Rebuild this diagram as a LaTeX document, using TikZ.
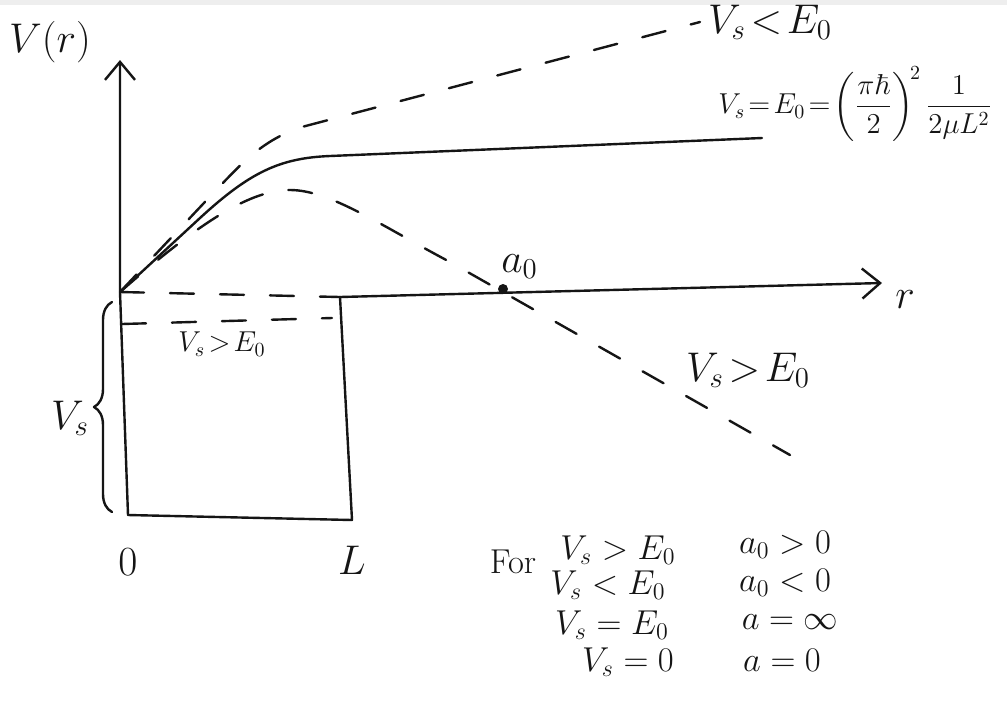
\documentclass[tikz,border=0pt]{standalone}
\usepackage{amsmath,amssymb}
\usepackage{xcolor}
\definecolor{potbg}{HTML}{EEEEEE}
\definecolor{potink}{HTML}{151515}
\usetikzlibrary{arrows.meta,positioning,calc,decorations.pathreplacing}

\begin{document}
\begin{tikzpicture}[x=0.5pt,y=-0.5pt,
  ink/.style={draw=potink,line width=1.2pt,line cap=round,line join=round},
  dashink/.style={ink,dash pattern=on 12pt off 13pt},
  axtip/.style={-{Straight Barb[length=9pt,width=15pt,line width=1.2pt]}},
  lbl/.style={font=\huge,text=potink,inner sep=1pt},
  tbl/.style={font=\LARGE,text=potink,inner sep=1pt}]
\useasboundingbox[fill=white] (0,0) rectangle (1007,703);
\fill[potbg] (0,0) rectangle (1007,5);

% axes and well
\coordinate (origin) at (120,292);
\coordinate (vtop) at (120,60);
\coordinate (rend) at (882,283);
\coordinate (wellTR) at (340,297);
\coordinate (wellBL) at (128,515);
\coordinate (wellBR) at (352,520);
\coordinate (azero) at (503,289);
\draw[ink,axtip] (wellBL) -- (origin) -- (vtop);
\draw[dashink] (origin) -- (wellTR);
\draw[ink,axtip] (wellTR) -- (rend);
\draw[ink] (wellTR) -- (wellBR) -- (wellBL);
\draw[dashink] (122,324) -- (332,318);
\fill[potink] (azero) circle (2.5pt);
\draw[ink,decorate,decoration={brace,amplitude=9pt}] (112,512) -- (112,302);

% curves
\draw[ink] (origin) -- (200,218) .. controls (250,172) and (280,158) .. (330,156) -- (762,138);
\draw[dashink] (origin) -- (220,186) .. controls (245,160) and (262,142) .. (298,128) -- (700,22);
\draw[dashink] (origin) .. controls (200,222) and (250,190) .. (290,190)
  .. controls (330,190) and (380,225) .. (450,262) -- (790,455);

% labels
\node[lbl] (vlabel) at (50,42) {$V(r)$};
\node[lbl] (rlabel) at (905,300) {$r$};
\node[lbl,above right=4pt and -2pt of azero] (alabel) {$a_0$};
\node[lbl] (lessE) at (770,22) {$V_s\!<\!E_0$};
\node[tbl,anchor=west,font=\Large] (equalE) at (716,104) {$V_s\!=\!E_0\!=\!\left(\dfrac{\pi\hbar}{2}\right)^{\!2}\dfrac{1}{2\mu L^2}$};
\node[lbl] (moreE) at (748,370) {$V_s\!>\!E_0$};
\node[tbl,font=\Large] (wellE) at (222,344) {$V_s\!>\!E_0$};
\node[lbl] (vslabel) at (70,418) {$V_s$};
\node[lbl] (zero) at (128,562) {$0$};
\node[lbl] (width) at (352,560) {$L$};

% table
\node[tbl] (forlabel) at (513,562) {For};
\node[tbl] (condA) at (618,550) {$V_s > E_0$};
\node[tbl] (condB) at (608,585) {$V_s < E_0$};
\node[tbl] (condC) at (612,625) {$V_s = E_0$};
\node[tbl] (condD) at (628,662) {$V_s = 0$};
\node[tbl] (resA) at (785,545) {$a_0 > 0$};
\node[tbl] (resB) at (785,583) {$a_0 < 0$};
\node[tbl] (resC) at (790,622) {$a = \infty$};
\node[tbl] (resD) at (782,660) {$a = 0$};
\end{tikzpicture}
\end{document}
